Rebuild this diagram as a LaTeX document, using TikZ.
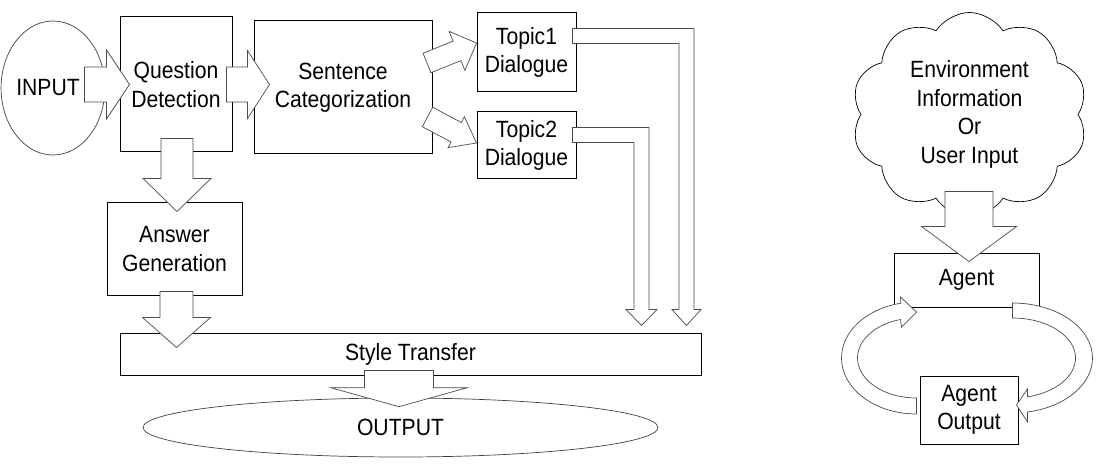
\documentclass[tikz,border=0pt]{standalone}
\usepackage{fontspec}
\setmainfont[FakeStretch=0.9]{Liberation Sans}
\usetikzlibrary{calc}
\usetikzlibrary{positioning}
\usetikzlibrary{shapes.geometric,shapes.symbols}

% straight block arrow: from, to, half shaft, half head, head length
\newcommand{\fatarrow}[5]{%
  \coordinate (fah) at ($(#2)!#5!(#1)$);
  \draw[fatarr] ($(#1)!#3!90:(#2)$) -- ($(fah)!#3!-90:(#1)$) -- ($(fah)!#4!-90:(#1)$)
    -- (#2) -- ($(fah)!#4!90:(#1)$) -- ($(fah)!#3!90:(#1)$) -- ($(#1)!#3!-90:(#2)$) -- cycle;}
% bent block arrow: right, then down
\newcommand{\bentarrow}[5]{%
  \draw[fatarr] ($(#1)+(0,-#3)$) -- ($(#2|-#1)+(#3,-#3)$) -- ($(#2)+(#3,-#5)$) -- ($(#2)+(#4,-#5)$)
    -- (#2) -- ($(#2)+(-#4,-#5)$) -- ($(#2)+(-#3,-#5)$) -- ($(#2|-#1)+(-#3,#3)$) -- ($(#1)+(0,#3)$) -- cycle;}

\begin{document}
\begin{tikzpicture}[
  x=1pt, y=-1pt,
  every node/.style={font=\fontsize{23.5}{28.5}\selectfont},
  block/.style={draw, rectangle, line width=1pt, align=center, inner sep=0pt},
  oval/.style={draw=black!75, ellipse, line width=0.7pt, inner sep=0pt},
  fatarr/.style={draw=black!70, fill=white, line width=0.7pt, line join=miter},
]
\useasboundingbox (0,0) rectangle (1111,465);

\node (in) [oval, minimum width=98, minimum height=134] at (53,88) {INPUT\hspace*{10pt}};
\node (qd) [block, minimum width=112, minimum height=135] at (176,84.5) {Question\\Detection};
\node (sc) [block, minimum width=178, minimum height=133] at (343,87.5) {Sentence\\Categorization};
\node (t1) [block, minimum width=99, minimum height=79] at (526.5,52.5) {Topic1\\Dialogue};
\node (t2) [block, minimum width=99, minimum height=67] at (526.5,145.5) {Topic2\\Dialogue};
\node (ag) [block, minimum width=135, minimum height=92] at (174.5,249) {Answer\\Generation};
\node (st) [block, minimum width=581, minimum height=42] at (410.5,354) {Style Transfer};
\node (out) [oval, minimum width=515, minimum height=59] at (400.5,427.5) {OUTPUT};

\node (env) [cloud, draw, line width=0.7pt, align=center, cloud puffs=10, cloud puff arc=115,
  cloud ignores aspect, minimum width=236, minimum height=204, inner sep=-12pt]
  at (969.5,114.5) {Environment\\Information\\Or\\User Input};
\node (agent) [block, minimum width=145, minimum height=54] at (966.5,280) {Agent};
\node (ao) [block, minimum width=98, minimum height=68] at (969,410) {Agent\\Output};

% left part
\coordinate (inA) at ($(qd.west)+(-35,0)$);
\coordinate (inB) at ($(qd.west)+(10,0)$);
\fatarrow{inA}{inB}{17.5pt}{34.5pt}{23pt}
\coordinate (qdA) at ($(qd.east)+(-6,0)$);
\coordinate (qdB) at ($(sc.west)+(16,-3)$);
\fatarrow{qdA}{qdB}{17.5pt}{34pt}{22pt}
\coordinate (sc1A) at ($(sc.east)+(-5.5,-24.5)$);
\coordinate (sc1B) at ($(t1.west)+(0,-9.5)$);
\fatarrow{sc1A}{sc1B}{10.5pt}{21pt}{21pt}
\coordinate (sc2A) at ($(sc.east)+(-5,29.5)$);
\coordinate (sc2B) at ($(t2.west)+(0,-2.5)$);
\fatarrow{sc2A}{sc2B}{11pt}{17.5pt}{23pt}
\coordinate (qd2A) at ($(qd.south)+(1,-14)$);
\coordinate (qd2B) at ($(ag.north)+(2.5,9)$);
\fatarrow{qd2A}{qd2B}{16pt}{34pt}{33pt}
\coordinate (agA) at ($(ag.south)+(2,-4)$);
\coordinate (agB) at ($(st.north west)+(57,15)$);
\fatarrow{agA}{agB}{16.5pt}{34pt}{30pt}
\coordinate (stA) at ($(st.south)+(-11.5,-5)$);
\coordinate (stB) at ($(out.north)+(-1.5,9)$);
\fatarrow{stA}{stB}{34.5pt}{68.5pt}{19pt}

\coordinate (t1A) at ($(t1.east)+(-4,-16.5)$);
\coordinate (t1B) at ($(st.north west)+(567,-7)$);
\bentarrow{t1A}{t1B}{7.5}{14.5}{16}
\coordinate (t2A) at ($(t2.east)+(-4,-10.5)$);
\coordinate (t2B) at ($(st.north west)+(522,-7)$);
\bentarrow{t2A}{t2B}{7.5}{15.5}{16}

% right part
\coordinate (envA) at ($(agent.north)+(2.5,-61)$);
\coordinate (envB) at ($(agent.north)+(2.5,9)$);
\fatarrow{envA}{envB}{24pt}{47.5pt}{35pt}

\coordinate (loopL) at ($(ao.west)+(-3,-52)$);
\coordinate (loopR) at ($(ao.east)+(-6,-52)$);
\draw[fatarr] ($(loopL)+(0,56)$) arc[start angle=90, end angle=258, x radius=75, y radius=56]
  -- ($(loopL)+(-16,-61)$) -- ($(loopL)+(0,-46)$) -- ($(loopL)+(-15,-31)$)
  -- ($(loopL)+(254.3:59 and 40)$) arc[start angle=254.3, end angle=90, x radius=59, y radius=40] -- cycle;
\draw[fatarr] ($(loopR)+(0,-55)$) arc[start angle=-90, end angle=79.2, x radius=80, y radius=55]
  -- ($(loopR)+(15,64)$) -- ($(loopR)+(4,47)$) -- ($(loopR)+(15,31)$)
  -- ($(loopR)+(76.2:63 and 40)$) arc[start angle=76.2, end angle=-90, x radius=63, y radius=40] -- cycle;

\end{tikzpicture}
\end{document}
